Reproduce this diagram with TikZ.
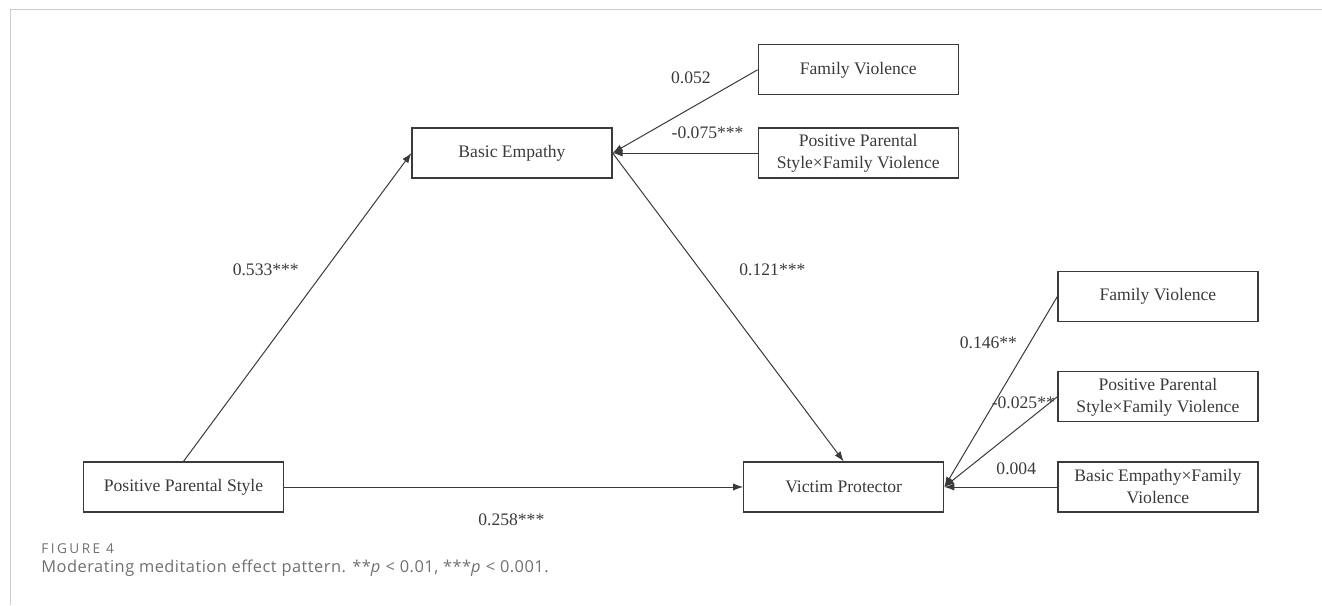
\documentclass[tikz,border=0pt]{standalone}
\usepackage{fontspec}
\setmainfont{Liberation Serif}
\newfontfamily\capfont{Open Sans}
\usepackage{xcolor}
\definecolor{boxgray}{HTML}{3A3A3A}
\definecolor{capgray}{HTML}{707070}
\definecolor{framegray}{HTML}{CCCCCC}
\usetikzlibrary{arrows.meta, positioning}

\begin{document}
\begin{tikzpicture}[
    x=0.5pt, y=-0.5pt,
    var/.style={rectangle, draw=boxgray, line width=0.6pt, minimum width=100pt, minimum height=25pt, inner sep=0pt, align=center, text=boxgray, font=\fontsize{8.8pt}{11pt}\selectfont},
    link/.style={draw=boxgray, line width=0.5pt, -{Latex[length=5pt, width=3.6pt]}},
    coef/.style={inner sep=0pt, text=boxgray, font=\fontsize{8.8pt}{11pt}\selectfont},
    caption/.style={inner sep=0pt, anchor=base west, text=capgray},
]
\useasboundingbox (0,0) rectangle (1322,605);
% page frame
\draw[framegray, line width=0.5pt] (10,605) -- (10,9.5) -- (1322,9.5);

% main variables
\node[var] (pps) at (183.5,487) {Positive Parental Style};
\node[var, right=229.5pt of pps] (vp) {Victim Protector};
\node[var] (be) at (512,153) {Basic Empathy};

% moderators of the first stage
\node[var, right=72.5pt of be] (pfv1) {Positive Parental\\Style×Family Violence};
\node[var, above=16pt of pfv1] (fv1) {Family Violence};

% moderators of the second stage
\node[var, right=56.5pt of vp] (bfv) {Basic Empathy×Family\\Violence};
\node[var, above=19.5pt of bfv] (pfv2) {Positive Parental\\Style×Family Violence};
\node[var, above=24.5pt of pfv2] (fv2) {Family Violence};

% paths
\draw[link] (pps.north) -- node[coef, pos=0.62, xshift=-29.5pt] {0.533***} (be.west);
\draw[link] (be.east) -- node[coef, pos=0.38, xshift=36pt] {0.121***} (vp.north);
\draw[link] (pps.east) -- node[coef, pos=0.495, yshift=-16.5pt] {0.258***} (vp.west);
\draw[link] (fv1.west) -- node[coef, pos=0.46, yshift=15.3pt] {0.052} (be.east);
\draw[link] (pfv1.west) -- node[coef, pos=0.345, yshift=10pt] {-0.075***} (be.east);
\draw[link] (fv2.west) -- node[coef, pos=0.245, xshift=-20.6pt] {0.146**} (vp.east);
\draw[link] (pfv2.west) -- node[coef, pos=0.067, xshift=-13.2pt] {-0.025**} (vp.east);
\draw[link] (bfv.west) -- node[coef, pos=0.363, yshift=9pt] {0.004} (vp.east);

% caption
\node[caption, font=\capfont\addfontfeature{LetterSpace=18}\fontsize{6.8pt}{8pt}\selectfont] (fig) at (41,553) {FIGURE 4};
\node[caption, font=\capfont\addfontfeature{LetterSpace=3}\fontsize{8.2pt}{10pt}\selectfont] (cap) at (41,572) {Moderating meditation effect pattern. **\textit{p} < 0.01, ***\textit{p} < 0.001.};
\end{tikzpicture}
\end{document}
